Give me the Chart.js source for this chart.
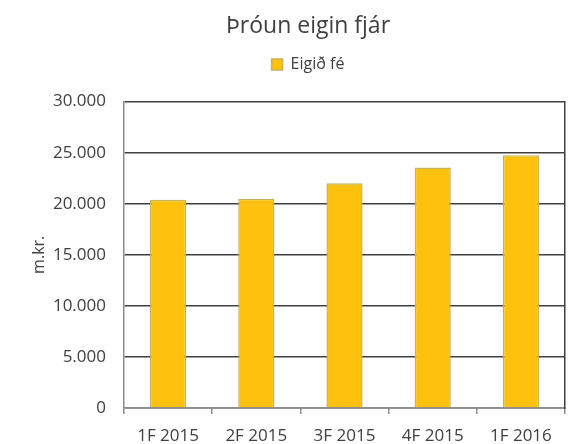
<!DOCTYPE html>
<html>
<head>
<meta charset="utf-8">
<script src="https://cdn.jsdelivr.net/npm/chart.js@4"></script>
<style>
  html, body { margin: 0; padding: 0; background: #fff; }
  #wrap { width: 586px; height: 444px; }
</style>
</head>
<body>
<div id="wrap"><canvas id="chart"></canvas></div>
<script>
// ── Data ─────────────────────────────────────────────────────
const categories = ['1F 2015', '2F 2015', '3F 2015', '4F 2015', '1F 2016'];
const equity     = [20400, 20500, 22000, 23550, 24750];
const seriesName = 'Eigið fé';

const FONT = "'Open Sans', 'Noto Sans', sans-serif";
const TEXT = '#404040';

// 30000 -> "30.000"
const fmt = v => String(v).replace(/\B(?=(\d{3})+(?!\d))/g, '.');

new Chart(document.getElementById('chart'), {
  type: 'bar',
  data: {
    labels: categories,
    datasets: [{
      label: seriesName,
      data: equity,
      backgroundColor: '#FEC10E',
      borderColor: '#C4B25C',
      borderWidth: 1.5,
      categoryPercentage: 0.41,
      barPercentage: 1,
    }],
  },
  options: {
    responsive: true,
    maintainAspectRatio: false,
    animation: false,
    layout: { padding: { top: 0, left: 30, right: 0, bottom: 0 } },
    plugins: {
      title: {
        display: true,
        text: 'Þróun eigin fjár',
        color: TEXT,
        font: { family: FONT, size: 23, weight: 'normal' },
        padding: { top: 13, bottom: 12 },
      },
      // empty subtitle just keeps a gap between legend and plot
      subtitle: {
        display: true,
        text: ' ',
        weight: 900,
        font: { size: 10 },
        padding: { top: 3, bottom: 4 },
      },
      legend: {
        display: true,
        labels: {
          color: TEXT,
          font: { family: FONT, size: 16 },
          boxWidth: 11, boxHeight: 11,
          padding: 4,
        },
      },
      tooltip: { enabled: false },
    },
    scales: {
      x: {
        grid: {
          offset: true,
          drawOnChartArea: false,
          tickLength: 6,
          color: '#8c8c8c',
          lineWidth: 1.5,
        },
        border: { color: '#8c8c8c', width: 1.5 },
        ticks: { color: TEXT, font: { family: FONT, size: 17 }, padding: 12 },
        afterFit: s => { s.height = 36; },
      },
      y: {
        min: 0, max: 30000,
        ticks: {
          stepSize: 5000,
          color: TEXT,
          font: { family: FONT, size: 17 },
          padding: 18,
          callback: v => fmt(v),
        },
        grid: { color: '#404040', lineWidth: 1.5, drawTicks: false },
        border: { color: '#8c8c8c', width: 1.5 },
        title: {
          display: true,
          text: 'm.kr.',
          color: TEXT,
          font: { family: FONT, size: 16 },
          padding: 0,
        },
        afterFit: s => { s.width = 94; },
      },
      y2: {
        position: 'right',
        min: 0, max: 30000,
        ticks: { display: false },
        grid: { display: false },
        border: { color: '#404040', width: 1.5 },
        afterFit: s => { s.width = 21; },
      },
    },
  },
});
</script>
</body>
</html>
